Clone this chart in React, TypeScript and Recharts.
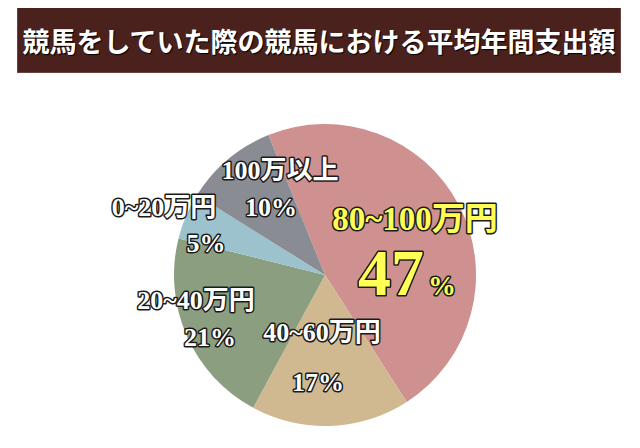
import { PieChart, Pie, Cell } from 'recharts';

const CATEGORIES = ['80~100万円', '40~60万円', '20~40万円', '0~20万円', '100万以上'];
const SHARES = [47, 17, 21, 5, 10];
const COLORS = ['#cf9090', '#d0b990', '#8b9f80', '#9cc2cd', '#898c92'];

const TITLE = '競馬をしていた際の競馬における平均年間支出額';

const data = CATEGORIES.map((name, i) => ({ name, value: SHARES[i] }));

// label offsets from the pie centre (name line, value line)
const LABEL_LAYOUT = [
  { nx: 90, ny: -45, vx: 82, vy: 20 },
  { nx: -3, ny: 66, vx: -7, vy: 116 },
  { nx: -129, ny: 34, vx: -115, vy: 71 },
  { nx: -161, ny: -59, vx: -119, vy: -23 },
  { nx: -45, ny: -96, vx: -54, vy: -59 },
];

const LABEL_FONT = '"Liberation Serif", "DejaVu Serif", "Noto Sans CJK JP", serif';

const renderLabel = (props: any) => {
  const { cx, cy, index, name, value } = props;
  const pos = LABEL_LAYOUT[index];
  const big = index === 0;
  const fill = big ? '#ffff55' : '#ffffff';
  const common = {
    fill,
    stroke: '#1a1a1a',
    strokeWidth: 3,
    paintOrder: 'stroke' as const,
    strokeLinejoin: 'round' as const,
    fontFamily: LABEL_FONT,
    fontWeight: 700,
    textAnchor: 'middle' as const,
  };
  if (big) {
    return (
      <g key={`lbl-${index}`}>
        <text {...common} x={cx + pos.nx} y={cy + pos.ny} fontSize={33}>{name}</text>
        <text {...common} x={cx + pos.vx} y={cy + pos.vy} fontSize={66}>
          {value}
          <tspan fontSize={28} dx={4}>%</tspan>
        </text>
      </g>
    );
  }
  return (
    <g key={`lbl-${index}`}>
      <text {...common} x={cx + pos.nx} y={cy + pos.ny} fontSize={26}>{name}</text>
      <text {...common} x={cx + pos.vx} y={cy + pos.vy} fontSize={26}>{`${value}%`}</text>
    </g>
  );
};

export default function App() {
  return (
    <div style={{ position: 'relative', width: 640, height: 448, margin: -8, background: '#ffffff' }}>
      <div
        style={{
          position: 'absolute',
          left: 17,
          top: 7,
          width: 604,
          height: 66,
          background: '#4a211c',
          boxSizing: 'border-box',
          border: '1px solid #6b4440',
          color: '#ffffff',
          fontFamily: '"Noto Sans CJK JP", sans-serif',
          fontWeight: 700,
          fontSize: 27,
          display: 'flex',
          alignItems: 'center',
          justifyContent: 'center',
          textShadow: '1px 1px 1px #000',
          letterSpacing: 0,
        }}
      >
        {TITLE}
      </div>
      <PieChart width={640} height={448} style={{ position: 'absolute', left: 0, top: 0 }}>
        <Pie
          data={data}
          dataKey="value"
          nameKey="name"
          cx={320}
          cy={270}
          outerRadius={151}
          startAngle={112}
          endAngle={-248}
          stroke="none"
          labelLine={false}
          label={renderLabel}
          isAnimationActive={false}
        >
          {data.map((_, i) => (
            <Cell key={`cell-${i}`} fill={COLORS[i]} />
          ))}
        </Pie>
      </PieChart>
    </div>
  );
}
